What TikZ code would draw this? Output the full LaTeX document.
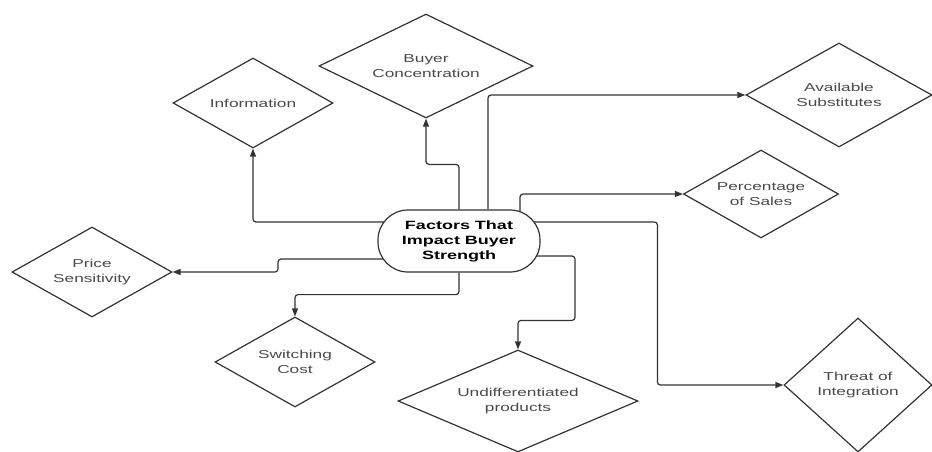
\documentclass[tikz,border=0pt]{standalone}
\usepackage{fontspec}
\setmainfont{Liberation Sans}[FakeStretch=1.5]
\usetikzlibrary{shapes.geometric,arrows.meta,backgrounds,calc}
\definecolor{linec}{HTML}{333333}
\definecolor{txtc}{HTML}{4A4A4A}
\tikzset{
  dia/.style={diamond, draw=linec, line width=1.2pt, fill=white, inner sep=0pt,
    align=center, text=txtc, font=\fontsize{11.5}{15}\selectfont},
  hub/.style={rectangle, rounded corners=30pt, draw=linec, line width=1.2pt, fill=white,
    minimum width=162pt, minimum height=62pt, inner sep=0pt, align=center,
    font=\fontsize{12}{15}\selectfont\bfseries},
  conn/.style={draw=linec, line width=1.2pt, rounded corners=3pt,
    -{Triangle[length=8pt,width=6pt]}}
}
\begin{document}
\begin{tikzpicture}[x=1pt,y=-1pt]
\useasboundingbox (0,0) rectangle (932,452);
\node[hub] (c) at (459,241) {Factors That\\Impact Buyer\\Strength};
\node[dia, aspect=1.78, minimum width=160pt, minimum height=90pt] (pr) at (92,272) {Price\\Sensitivity};
\node[dia, aspect=1.78, minimum width=160pt, minimum height=90pt] (info) at (253,103) {Information};
\node[dia, aspect=2.06, minimum width=214pt, minimum height=104pt] (bc) at (426,66) {Buyer\\Concentration};
\node[dia, aspect=1.79, minimum width=186pt, minimum height=104pt] (as) at (839,95) {Available\\Substitutes};
\node[dia, aspect=1.76, minimum width=155pt, minimum height=88pt] (psl) at (761,194) {Percentage\\of Sales};
\node[dia, aspect=1.78, minimum width=160pt, minimum height=90pt] (sc) at (295,362) {Switching\\Cost};
\node[dia, aspect=2.35, minimum width=240pt, minimum height=102pt] (ud) at (518,401) {Undifferentiated\\products};
\node[dia, aspect=1.1, minimum width=148pt, minimum height=134pt] (ti) at (858,385) {Threat of\\Integration};
\begin{scope}[on background layer]
\draw[conn] ([yshift=19pt]c.center) -| (info.south);
\draw[conn] (c.north) -- ++(0,-45) -| (bc.south);
\draw[conn] ([xshift=29pt]c.north) |- (as.west);
\draw[conn] ([xshift=61pt,yshift=29pt]c.center) |- (psl.west);
\draw[conn] ([yshift=19pt]c.center) -| ([xshift=-126pt]ti.west) -- (ti.west);
\draw[conn] ([yshift=-15pt]c.center) -| ([xshift=57pt,yshift=29pt]ud.north) -| (ud.north);
\draw[conn] (c.south) -- ++(0,22) -| (sc.north);
\draw[conn] ([yshift=-18pt]c.center) -- ++(-181,0) |- (pr.east);
\end{scope}
\end{tikzpicture}
\end{document}
